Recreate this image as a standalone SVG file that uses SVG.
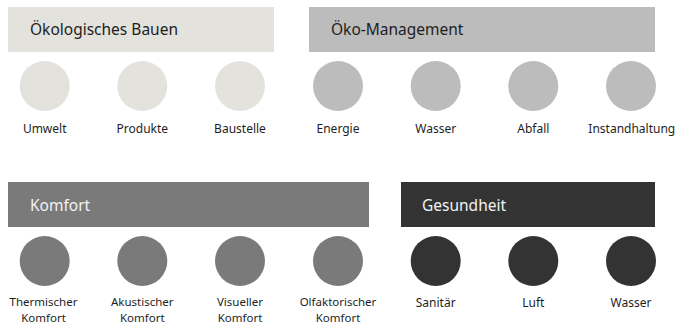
<svg xmlns="http://www.w3.org/2000/svg" width="678" height="326" viewBox="0 0 678 326">
<style>
text { font-family: "Noto Sans", "Liberation Sans", sans-serif; }
.title { font-size: 15.5px; }
.lbl { font-size: 12px; fill: #1e1e1e; text-anchor: middle; }
.lbl2 { font-size: 11.5px; }
.c1 { fill: #e3e2dd; }
.c2 { fill: #bcbcbc; }
.c3 { fill: #7a7a7a; }
.c4 { fill: #333333; }
.tdark { fill: #1e1e1e; }
.tlight { fill: #f2f2f2; }
</style>
<rect width="678" height="326" fill="#ffffff"/>
<g id="oekologisches-bauen">
  <rect class="c1" x="8" y="7" width="266" height="45"/>
  <text class="title tdark" x="30" y="35">Ökologisches Bauen</text>
</g>
<g id="oeko-management">
  <rect class="c2" x="309" y="7" width="346" height="45"/>
  <text class="title tdark" x="331" y="35">Öko-Management</text>
</g>
<g id="komfort">
  <rect class="c3" x="8" y="182" width="361" height="45"/>
  <text class="title tlight" x="30" y="211">Komfort</text>
</g>
<g id="gesundheit">
  <rect class="c4" x="401" y="182" width="254" height="45"/>
  <text class="title tlight" x="422" y="211">Gesundheit</text>
</g>
<g id="connectors"></g>
<g id="umwelt"><circle class="c1" cx="44.7" cy="86" r="25"/><text class="lbl" x="44.7" y="132.5">Umwelt</text></g>
<g id="produkte"><circle class="c1" cx="142.3" cy="86" r="25"/><text class="lbl" x="142.3" y="132.5">Produkte</text></g>
<g id="baustelle"><circle class="c1" cx="240" cy="86" r="25"/><text class="lbl" x="240" y="132.5">Baustelle</text></g>
<g id="energie"><circle class="c2" cx="338" cy="86" r="25"/><text class="lbl" x="338" y="132.5">Energie</text></g>
<g id="wasser1"><circle class="c2" cx="435.7" cy="86" r="25"/><text class="lbl" x="435.7" y="132.5">Wasser</text></g>
<g id="abfall"><circle class="c2" cx="533.3" cy="86" r="25"/><text class="lbl" x="533.3" y="132.5">Abfall</text></g>
<g id="instandhaltung"><circle class="c2" cx="631" cy="86" r="25"/><text class="lbl" x="631.8" y="132.5">Instandhaltung</text></g>
<g id="thermischer-komfort"><circle class="c3" cx="44.7" cy="261" r="25"/><text class="lbl lbl2" x="43.5" y="306">Thermischer</text><text class="lbl lbl2" x="43.5" y="321.8">Komfort</text></g>
<g id="akustischer-komfort"><circle class="c3" cx="142.3" cy="261" r="25"/><text class="lbl lbl2" x="142.3" y="306">Akustischer</text><text class="lbl lbl2" x="142.3" y="321.8">Komfort</text></g>
<g id="visueller-komfort"><circle class="c3" cx="240" cy="261" r="25"/><text class="lbl lbl2" x="240" y="306">Visueller</text><text class="lbl lbl2" x="240" y="321.8">Komfort</text></g>
<g id="olfaktorischer-komfort"><circle class="c3" cx="338" cy="261" r="25"/><text class="lbl lbl2" x="338" y="306">Olfaktorischer</text><text class="lbl lbl2" x="338" y="321.8">Komfort</text></g>
<g id="sanitaer"><circle class="c4" cx="435.7" cy="261" r="25"/><text class="lbl" x="435.7" y="307">Sanitär</text></g>
<g id="luft"><circle class="c4" cx="533.3" cy="261" r="25"/><text class="lbl" x="533.3" y="307">Luft</text></g>
<g id="wasser2"><circle class="c4" cx="631" cy="261" r="25"/><text class="lbl" x="631" y="307">Wasser</text></g>
</svg>
